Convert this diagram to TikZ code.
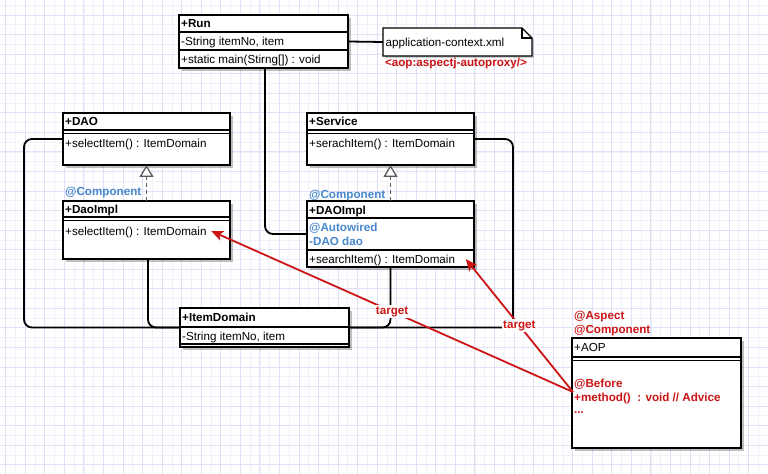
\documentclass[tikz,border=0pt]{standalone}
\usepackage{fontspec}
\setmainfont{Liberation Sans}
\usetikzlibrary{arrows.meta,calc,shadows}
\definecolor{aopred}{RGB}{204,20,20}
\definecolor{annblue}{RGB}{70,135,205}
\definecolor{gridmaj}{RGB}{224,224,247}
\definecolor{gridmin}{RGB}{241,241,251}
\definecolor{dashgray}{RGB}{90,90,90}
\begin{document}
\begin{tikzpicture}[x=1bp,y=-1bp,
  font=\fontsize{11.7}{14}\selectfont,
  umlbox/.style={draw=black,line width=1.6bp,fill=white,anchor=north west,
    inner sep=0pt,outer sep=0pt,
    drop shadow={shadow xshift=3bp,shadow yshift=-3bp,fill=black,opacity=0.25}},
  divider/.style={line width=1.5bp,draw=black},
  txt/.style={anchor=west,inner sep=1.5bp,text height=8.4bp,text depth=0pt},
  bluetxt/.style={txt,text=annblue,font=\fontsize{11.7}{14}\selectfont\bfseries},
  redtxt/.style={txt,text=aopred,font=\fontsize{11.7}{14}\selectfont\bfseries},
  conn/.style={draw=black,line width=1.8bp,rounded corners=8bp},
  realize/.style={draw=dashgray,line width=1.6bp,dash pattern=on 4bp off 3bp,
    -{Triangle[width=14bp,length=12bp,fill=white,line width=1.3bp]}},
  redarrow/.style={draw=aopred,line width=1.8bp,-{Stealth[length=12bp,width=10bp,inset=3bp]}},
  tlabel/.style={fill=white,inner sep=1bp,text=aopred,text height=8.4bp,text depth=2pt,
    font=\fontsize{11.7}{14}\selectfont\bfseries}
]
\useasboundingbox (0,0) rectangle (768,474);
\fill[white] (0,0) rectangle (768,474);
% grid
\foreach \k in {0,...,78}{\pgfmathsetmacro\xx{5.75+\k*9.775}
  \draw[gridmin,line width=0.8bp] (\xx,0) -- (\xx,474);}
\foreach \k in {0,...,48}{\pgfmathsetmacro\yy{5.325+\k*9.775}
  \draw[gridmin,line width=0.8bp] (0,\yy) -- (768,\yy);}
\foreach \k in {0,...,39}{\pgfmathsetmacro\xx{5.75+\k*19.55}
  \draw[gridmaj,line width=1bp] (\xx,0) -- (\xx,474);}
\foreach \k in {0,...,24}{\pgfmathsetmacro\yy{15.1+\k*19.55}
  \draw[gridmaj,line width=1bp] (0,\yy) -- (768,\yy);}

% ---------- Run ----------
\node[umlbox,minimum width=169bp,minimum height=53bp] (run) at (179,15) {};
\draw[divider] (179,32) -- (348,32);
\draw[divider] (179,50) -- (348,50);
\node[txt] (runT) at (179.5,23.5) {\bfseries +Run};
\node[txt] (runA) at (179.5,41) {-String itemNo, item};
\node[txt] (runM) at (179.5,59) {+static main(Stirng[]) : void};

% ---------- note ----------
\node[anchor=north west,inner sep=0pt,outer sep=0pt,minimum width=149bp,minimum height=28bp] (note) at (383,28) {};
\draw[line width=1.2bp,fill=white,drop shadow={shadow xshift=2bp,shadow yshift=-2bp,fill=black,opacity=0.18}]
  (note.north west) -- ($(note.north east)+(-10,0)$) -- ($(note.north east)+(0,10)$)
  -- (note.south east) -- (note.south west) -- cycle;
\draw[line width=1.2bp] ($(note.north east)+(-10,0)$) -- ($(note.north east)+(-10,10)$) -- ($(note.north east)+(0,10)$);
\node[txt] (noteT) at (384,42.5) {application-context.xml};
\node[redtxt,anchor=center] (aopx) at (456,62.5) {<aop:aspectj-autoproxy/>};

% ---------- DAO ----------
\node[umlbox,minimum width=167bp,minimum height=52bp] (dao) at (63,113) {};
\draw[divider] (63,130) -- (230,130);
\draw[divider] (63,133.5) -- (230,133.5);
\node[txt] (daoT) at (63.5,121.5) {\bfseries +DAO};
\node[txt] (daoM) at (63.5,143) {+selectItem() : ItemDomain};

% ---------- DaoImpl ----------
\node[umlbox,minimum width=167bp,minimum height=58bp] (daoimpl) at (63,201) {};
\draw[divider] (63,217) -- (230,217);
\draw[divider] (63,220.5) -- (230,220.5);
\node[txt] (daoimplT) at (63.5,209.5) {\bfseries +DaoImpl};
\node[txt] (daoimplM) at (63.5,231) {+selectItem() : ItemDomain};
\node[bluetxt] (daocomp) at (63.5,191.5) {@Component};

% ---------- Service ----------
\node[umlbox,minimum width=167bp,minimum height=52bp] (service) at (307,113) {};
\draw[divider] (307,130) -- (474,130);
\draw[divider] (307,133.5) -- (474,133.5);
\node[txt] (serviceT) at (307.5,121.5) {\bfseries +Service};
\node[txt] (serviceM) at (307.5,143) {+serachItem() : ItemDomain};

% ---------- DAOImpl ----------
\node[umlbox,minimum width=167bp,minimum height=66bp] (svcimpl) at (307,201) {};
\draw[divider] (307,218) -- (474,218);
\draw[divider] (307,250) -- (474,250);
\node[txt] (svcimplT) at (307.5,210) {\bfseries +DAOImpl};
\node[bluetxt] (svcimplAw) at (307.5,227.5) {@Autowired};
\node[bluetxt] (svcimplA) at (307.5,241.5) {-DAO dao};
\node[txt] (svcimplM) at (307.5,259) {+searchItem() : ItemDomain};
\node[bluetxt] (svccomp) at (307.5,194.5) {@Component};

% ---------- ItemDomain ----------
\node[umlbox,minimum width=169bp,minimum height=39bp] (item) at (180,308) {};
\draw[divider] (180,327) -- (349,327);
\draw[divider] (180,344) -- (349,344);
\node[txt] (itemT) at (180.5,317.5) {\bfseries +ItemDomain};
\node[txt] (itemA) at (180.5,336) {-String itemNo, item};

% ---------- AOP ----------
\node[umlbox,minimum width=169bp,minimum height=110bp] (aop) at (572,338) {};
\draw[divider] (572,357) -- (741,357);
\draw[divider] (572,360.5) -- (741,360.5);
\node[txt] (aopT) at (572.5,347.5) {+AOP};
\node[redtxt] (aspect) at (572.5,315.5) {@Aspect};
\node[redtxt] (aopcomp) at (572.5,329.5) {@Component};
\node[redtxt] (before) at (572.5,383.5) {@Before};
\node[redtxt] (method) at (572.5,397.5) {+method()\ \ : void // Advice};
\node[redtxt] (dots) at (572.5,409.5) {...};
\coordinate (aopin) at (573,392);

% ---------- connectors ----------
\draw[conn] (run.east) -- (note.west);
\draw[conn] ([xshift=1.5bp]run.south) |- (svcimpl.west);
\draw[conn] (dao.west) -- ++(-39,0) |- (item.west);
\draw[conn] ([xshift=1.5bp]daoimpl.south) |- (item.west);
\draw[conn] (service.east) -- ++(39,0) |- (item.east);
\draw[conn] (svcimpl.south) |- (item.east);
\draw[realize] (daoimpl.north) -- (dao.south);
\draw[realize] (svcimpl.north) -- (service.south);

% ---------- AOP targets ----------
\draw[redarrow] (aopin) -- node[tlabel,pos=0.5] {target} ([xshift=3bp]daoimplM.east);
\draw[redarrow] (aopin) -- node[tlabel,pos=0.5] {target} ([xshift=9bp]svcimplM.east);
\end{tikzpicture}
\end{document}
